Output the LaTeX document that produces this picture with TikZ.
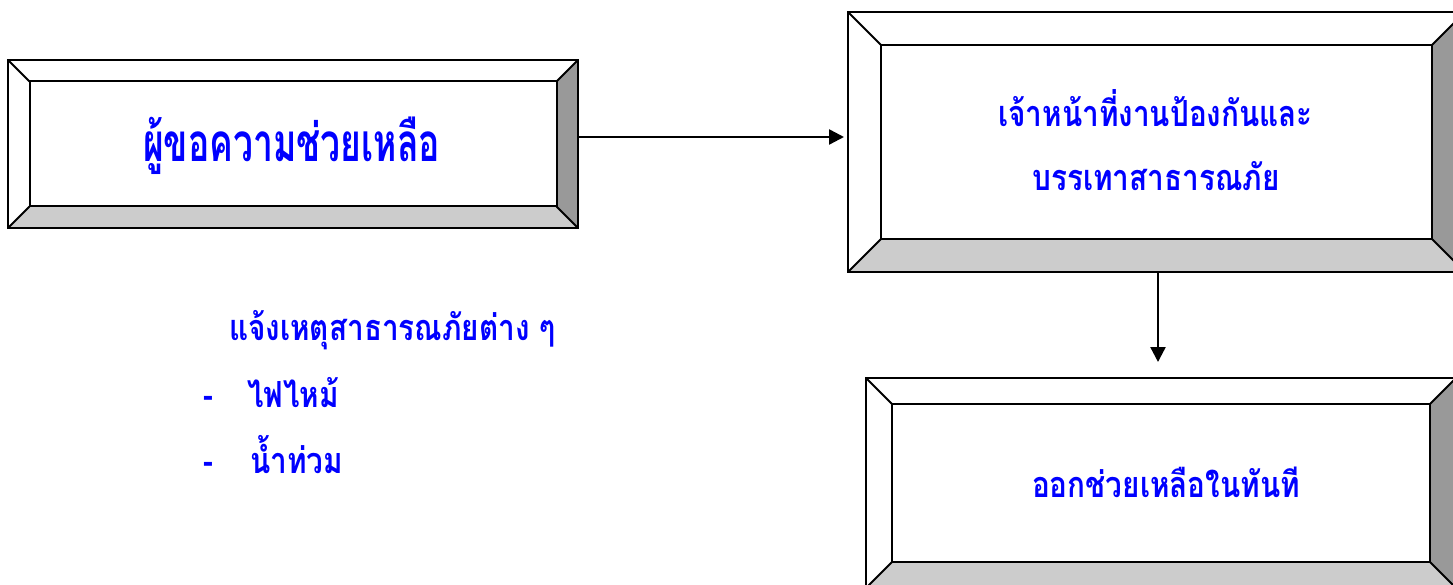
\documentclass[tikz,border=0pt]{standalone}
\usepackage{fontspec}
\newfontfamily\thaiA[Script=Thai,FakeStretch=0.67]{Loma}
\newfontfamily\thaiB[Script=Thai,FakeStretch=0.825]{Loma}
\usetikzlibrary{arrows.meta,calc}
\definecolor{rgray}{HTML}{999999}
\definecolor{bgray}{HTML}{CCCCCC}
\definecolor{tblue}{HTML}{0000FF}
\tikzset{
  boxline/.style={draw=black,line width=2pt,inner sep=0pt,outer sep=0pt},
  arr/.style={draw=black,line width=2.4pt,-{Triangle[length=15pt,width=15pt]}},
  bigtext/.style={text=tblue,font=\thaiA\bfseries\fontsize{53}{60}\selectfont,inner sep=0pt,anchor=base},
  ttext/.style={text=tblue,font=\thaiB\bfseries\fontsize{36}{44}\selectfont,inner sep=0pt,anchor=base},
  ltext/.style={text=tblue,font=\thaiB\bfseries\fontsize{36}{44}\selectfont,inner sep=0pt,anchor=base west}
}
\newcommand\bevelbox[6]{%
  \pgfmathsetmacro\ixa{#2+#6}\pgfmathsetmacro\iya{#3+#6}%
  \pgfmathsetmacro\ixb{#4-#6}\pgfmathsetmacro\iyb{#5-#6}%
  \pgfmathsetmacro\ow{#4-#2}\pgfmathsetmacro\oh{#5-#3}%
  \pgfmathsetmacro\iw{#4-#2-2*#6}\pgfmathsetmacro\ih{#5-#3-2*#6}%
  \pgfmathsetmacro\cx{(#2+#4)/2}\pgfmathsetmacro\cy{(#3+#5)/2}%
  \fill[white] (#2,#3) rectangle (#4,#5);
  \fill[rgray] (#4,#3) -- (#4,#5) -- (\ixb,\iyb) -- (\ixb,\iya) -- cycle;
  \fill[bgray] (#2,#5) -- (#4,#5) -- (\ixb,\iyb) -- (\ixa,\iyb) -- cycle;
  \node[boxline,minimum width=\ow pt,minimum height=\oh pt] (#1) at (\cx,\cy) {};
  \node[boxline,minimum width=\iw pt,minimum height=\ih pt] (#1-in) at (\cx,\cy) {};
  \draw[line width=2pt] (#1.north west) -- (#1-in.north west)
    (#1.north east) -- (#1-in.north east)
    (#1.south west) -- (#1-in.south west)
    (#1.south east) -- (#1-in.south east);
}
\begin{document}
\begin{tikzpicture}[x=1pt,y=-1pt]
\useasboundingbox (0,0) rectangle (1453,585);
\fill[white] (0,0) rectangle (1453,585);
\bevelbox{b1}{8}{60}{578}{228}{21.5}
\bevelbox{b2}{848}{12}{1465}{272}{33}
\bevelbox{b3}{866}{378}{1456}{588}{26}
\node[bigtext] (t1) at (291.5,162) {ผู้ขอความช่วยเหลือ};
\node[ttext] (t2a) at (1155.5,127) {เจ้าหน้าที่งานป้องกันและ};
\node[ttext] (t2b) at (1156,191) {บรรเทาสาธารณภัย};
\node[ttext] (t3) at (1166,497) {ออกช่วยเหลือในทันที};
\node[ltext] (l1) at (229,340) {แจ้งเหตุสาธารณภัยต่าง ๆ};
\node[ltext] (d1) at (203,407) {-};
\node[ltext] (l2) at (247,407) {ไฟไหม้};
\node[ltext] (d2) at (203,473) {-};
\node[ltext] (l3) at (250,473) {น้ำท่วม};
\coordinate (ay) at (0,137);
\draw[arr,shorten >=4pt] (b1.east |- ay) -- (b2.west |- ay);
\coordinate (ax) at (1158,0);
\draw[arr,shorten >=16pt] (b2.south -| ax) -- (b3.north -| ax);
\end{tikzpicture}
\end{document}
